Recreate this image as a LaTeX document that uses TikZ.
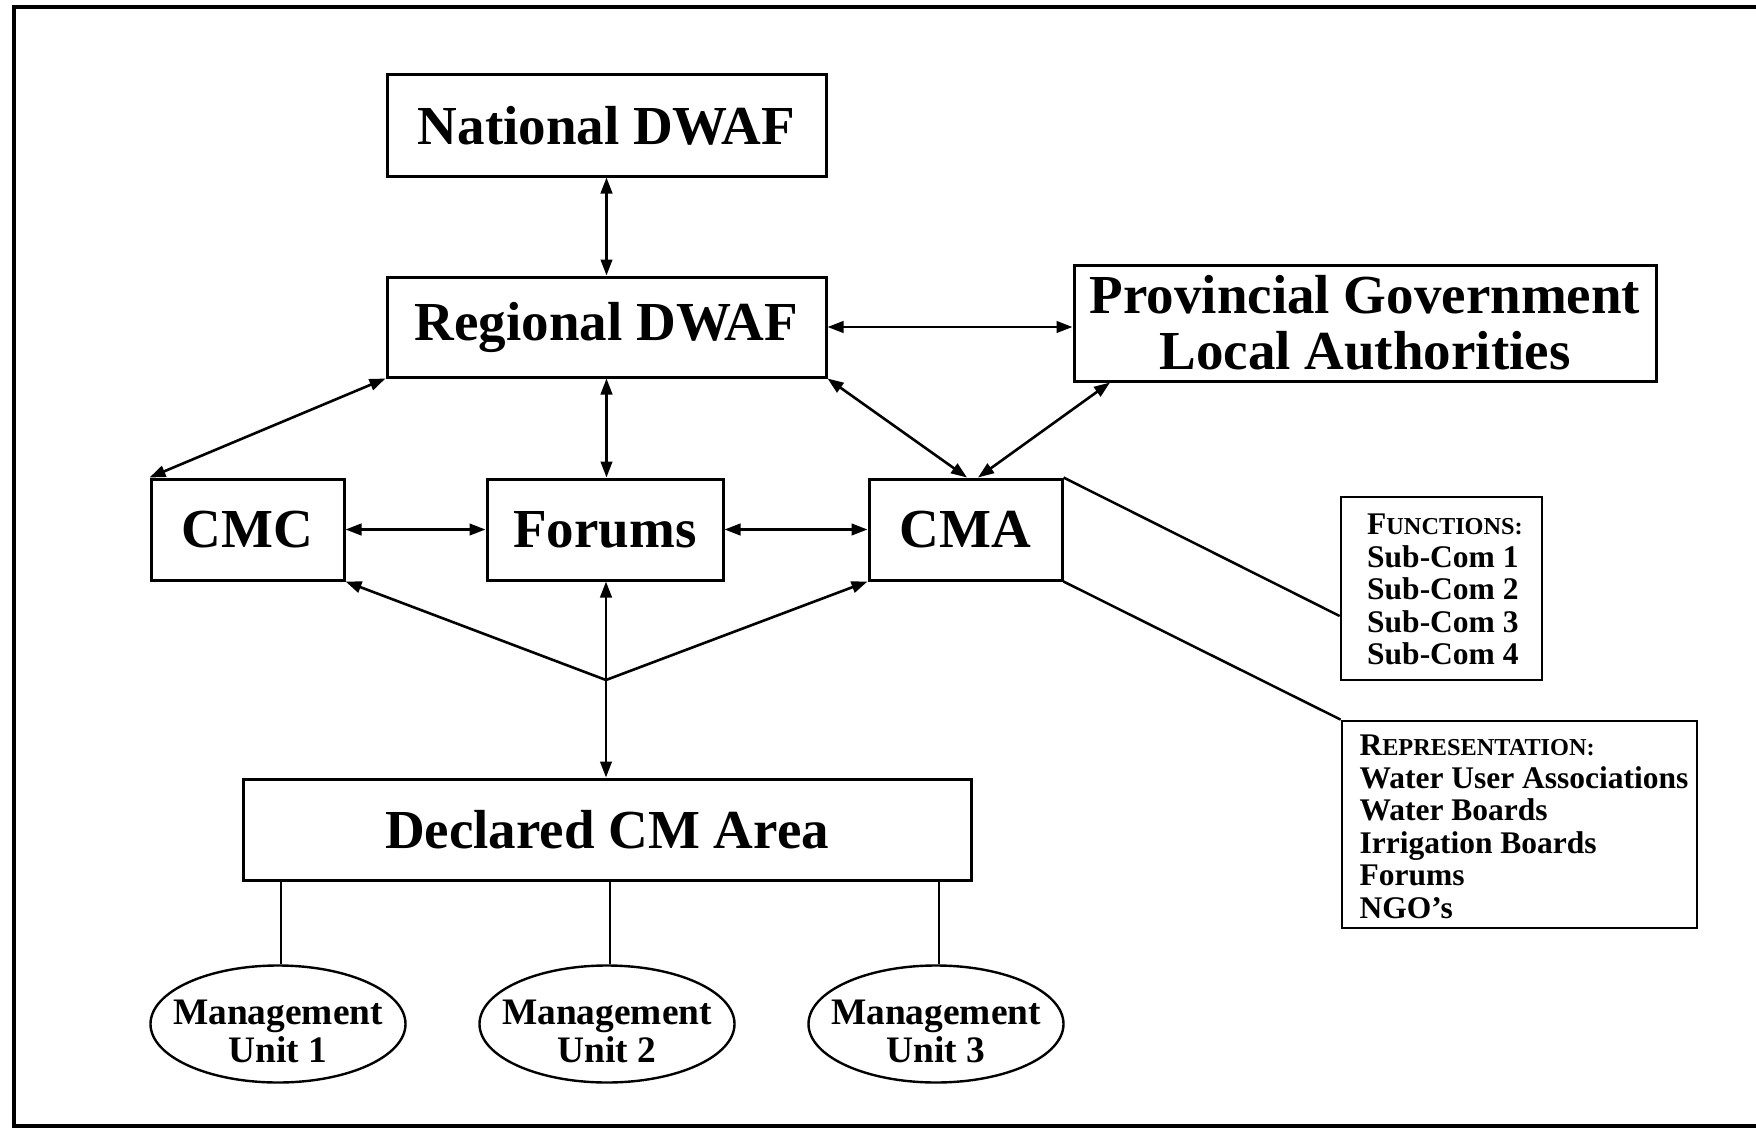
\documentclass[tikz,border=0pt]{standalone}
\usepackage{fontspec}
\setmainfont{Liberation Serif}
\usetikzlibrary{arrows.meta,shapes.geometric,calc}
\newcommand\fsz[2]{\fontsize{#1}{#2}\selectfont}
\newcommand\unittext[1]{\makebox[0pt]{\raisebox{-18.3pt}[0pt][0pt]{\begin{tabular}{@{}c@{}}Management\\Unit #1\end{tabular}}}}
\begin{document}
\begin{tikzpicture}[x=1pt,y=-1pt,
  >={Triangle[length=16pt,width=11.5pt]},
  box/.style={draw, line width=3pt, rectangle, inner sep=0pt, font=\bfseries\fsz{55}{56}, align=center},
  small/.style={draw, line width=2.7pt, rectangle, inner sep=0pt, font=\bfseries\fsz{31.5}{32.5}},
  unit/.style={draw, line width=2.4pt, ellipse, inner sep=0pt, minimum width=255pt, minimum height=117pt, font=\bfseries\fsz{37.4}{38}},
  link/.style={line width=2.6pt},
  plain/.style={line width=2.5pt},
  stem/.style={line width=2.1pt}]
\path[use as bounding box, clip] (0,0) rectangle (1756,1129);
\draw[line width=4pt] (14,7) rectangle (1800,1126);

\node[box, minimum width=439pt, minimum height=101pt] (nat) at (606.5,125.5) {National DWAF};
\node[box, minimum width=439pt, minimum height=100pt] (reg) at (606.5,327) {Regional DWAF};
\node[box, minimum width=582pt, minimum height=116pt] (prov) at (1365,323) {Provincial Government\\Local Authorities};
\node[box, minimum width=193pt, minimum height=101pt] (cmc) at (247.5,529.5) {CMC};
\node[box, minimum width=236pt, minimum height=101pt] (forums) at (605,529.5) {Forums};
\node[box, minimum width=193pt, minimum height=101pt] (cma) at (965.5,529.5) {CMA};
\node[box, minimum width=728pt, minimum height=101pt] (dec) at (607,829.5) {Declared CM Area};

\node[small, minimum width=201pt, minimum height=183pt] (fun) at (1441.5,588.5)
  {\begin{tabular}{@{\hspace{7pt}}l@{}}\rule{0pt}{31.75pt}{\fsz{31.5}{32.5}F}{\fsz{24.3}{32.5}UNCTIONS:}\\Sub-Com 1\\Sub-Com 2\\Sub-Com 3\\Sub-Com 4\end{tabular}};
\node[small, minimum width=355pt, minimum height=207pt] (rep) at (1519.5,824.5)
  {\begin{tabular}{@{\hspace{9pt}}l@{}}\rule{0pt}{34.75pt}{\fsz{31.5}{32.5}R}{\fsz{24.3}{32.5}EPRESENTATION:}\\Water User Associations\\Water Boards\\Irrigation Boards\\Forums\\NGO’s\end{tabular}};

\node[unit] (mu1) at (278,1024) {\unittext{1}};
\node[unit] (mu2) at (607,1024) {\unittext{2}};
\node[unit] (mu3) at (936,1024) {\unittext{3}};

\coordinate (j) at (606,680);

\draw[link,<->] (nat.south) -- (reg.north);
\draw[link,<->] (reg.east) -- (reg.east -| prov.west);
\draw[link,<->] (reg.south west) -- (cmc.north west);
\draw[link,<->] (reg.south) -- (reg.south |- forums.north);
\draw[link,<->] (reg.south east) -- ([xshift=1.5pt]cma.north);
\draw[link,<->] ([xshift=-255pt]prov.south) -- ([xshift=12.5pt]cma.north);
\draw[link,<->] (cmc.east) -- (forums.west);
\draw[link,<->] (forums.east) -- (cma.west);
\draw[link,->] (j) -- (cmc.south east);
\draw[link,->] (j) -- (cma.south west);
\draw[link,<->] (forums.south -| j) -- (dec.north -| j);

\draw[plain] (cma.north east) -- (fun.west |- 0,616);
\draw[plain] (cma.south east) -- (rep.north west);

\draw[stem] ([xshift=3pt]mu1.north) -- ([xshift=3pt]mu1.north |- dec.south);
\draw[stem] ([xshift=3pt]mu2.north) -- ([xshift=3pt]mu2.north |- dec.south);
\draw[stem] ([xshift=3pt]mu3.north) -- ([xshift=3pt]mu3.north |- dec.south);
\end{tikzpicture}
\end{document}
